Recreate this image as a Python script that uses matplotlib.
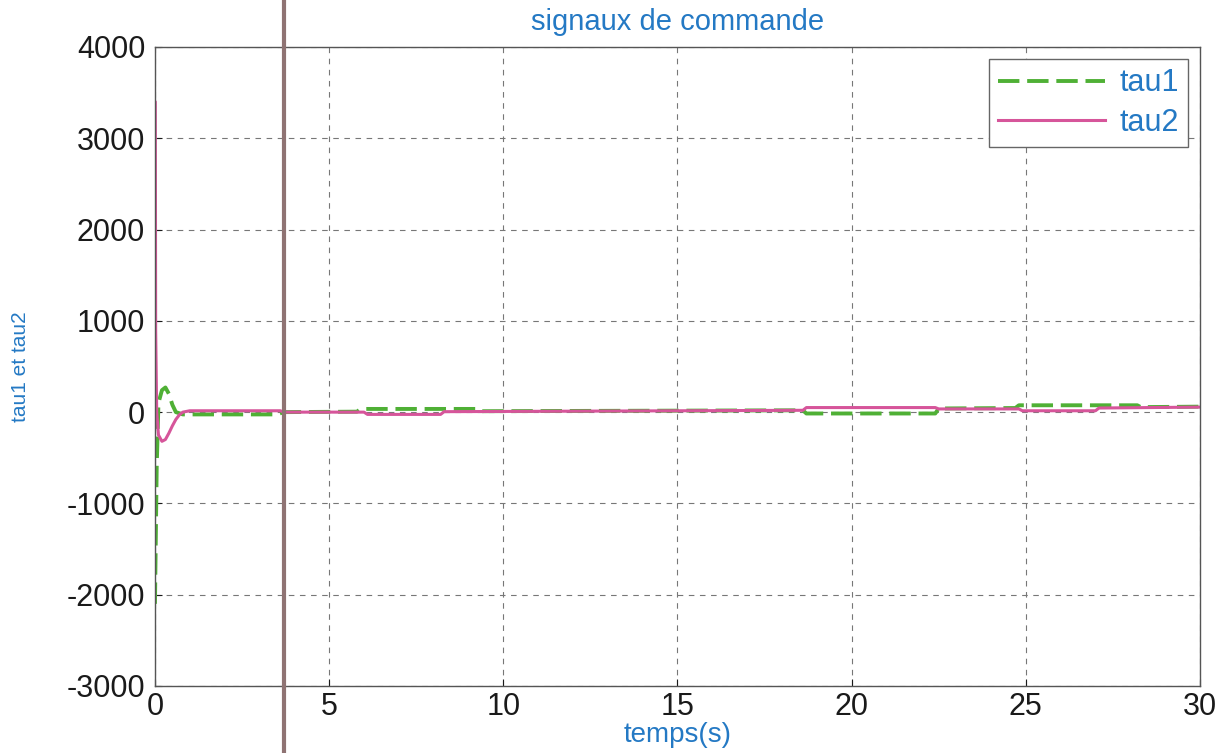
import numpy as np
import matplotlib.pyplot as plt
from matplotlib.lines import Line2D

# control signals (N.m) vs time (s)
t_tau1 = [0, 0.02, 0.05, 0.1, 0.2, 0.3, 0.4, 0.5, 0.6, 0.8, 1.0, 3.5, 3.7,
          5.8, 5.9, 9.2, 9.3, 18.6, 18.7, 22.4, 22.5, 24.7, 24.8, 28.2, 28.3, 30]
tau1 = [-2100, -1500, -600, 100, 240, 270, 200, 80, 0, -25, -25, -25, 0,
        5, 35, 35, 10, 20, -15, -15, 40, 45, 75, 75, 55, 60]

t_tau2 = [0, 0.01, 0.02, 0.03, 0.05, 0.1, 0.2, 0.3, 0.4, 0.5, 0.6, 0.7, 0.8, 1.0,
          3.6, 3.7, 6.0, 6.1, 8.2, 8.3, 18.6, 18.7, 22.4, 22.5, 24.8, 24.9,
          27.0, 27.1, 30]
tau2 = [3400, 3400, 900, 600, 0, -250, -320, -300, -230, -150, -80, -30, 0, 15,
        15, 0, 0, -25, -25, 5, 20, 50, 50, 35, 35, 15,
        15, 45, 55]

xticks = [0, 5, 10, 15, 20, 25, 30]
yticks = [-3000, -2000, -1000, 0, 1000, 2000, 3000, 4000]

blue = '#2479c4'
green = '#4fb035'
magenta = '#d6559a'

plt.rcParams['font.family'] = ['Liberation Sans', 'DejaVu Sans']
plt.rcParams['axes.unicode_minus'] = False

fig = plt.figure(figsize=(12.26, 7.53), dpi=100)
ax = fig.add_axes([0.1264, 0.0890, 0.8524, 0.8486])

ax.plot(t_tau1, tau1, color=green, lw=2.8, ls=(0, (5.5, 2)), label='tau1')
ax.plot(t_tau2, tau2, color=magenta, lw=2.2, label='tau2')

ax.set_xlim(0, 30)
ax.set_ylim(-3000, 4000)
ax.set_xticks(xticks)
ax.set_yticks(yticks)
ax.tick_params(direction='in', length=5, labelsize=22, colors='#1a1a1a')
ax.tick_params(axis='x', pad=4)
ax.tick_params(axis='y', pad=7)
ax.grid(True, color='#777777', ls=(0, (5, 5)), lw=0.8)
for s in ax.spines.values():
    s.set_color('#555555')
    s.set_linewidth(1.0)

ax.set_title('signaux de commande', color=blue, fontsize=21, pad=12)
ax.set_xlabel('temps(s)', color=blue, fontsize=20, labelpad=0)
ax.set_ylabel('tau1 et tau2', color=blue, fontsize=15, va='center')
ax.yaxis.set_label_coords(-0.129, 0.5)

leg = ax.legend(loc='upper right', fontsize=22, handlelength=3.5,
                borderaxespad=0.4, fancybox=False, framealpha=1,
                edgecolor='#666666', labelcolor=blue, borderpad=0.3,
                labelspacing=0.3, handletextpad=0.45)
leg.get_frame().set_linewidth(1.0)

# fold line across the sheet
fig.add_artist(Line2D([284 / 1226, 284 / 1226], [0, 1], transform=fig.transFigure,
                      color='#8f7373', lw=3))

fig.savefig('out.png', dpi=100)
